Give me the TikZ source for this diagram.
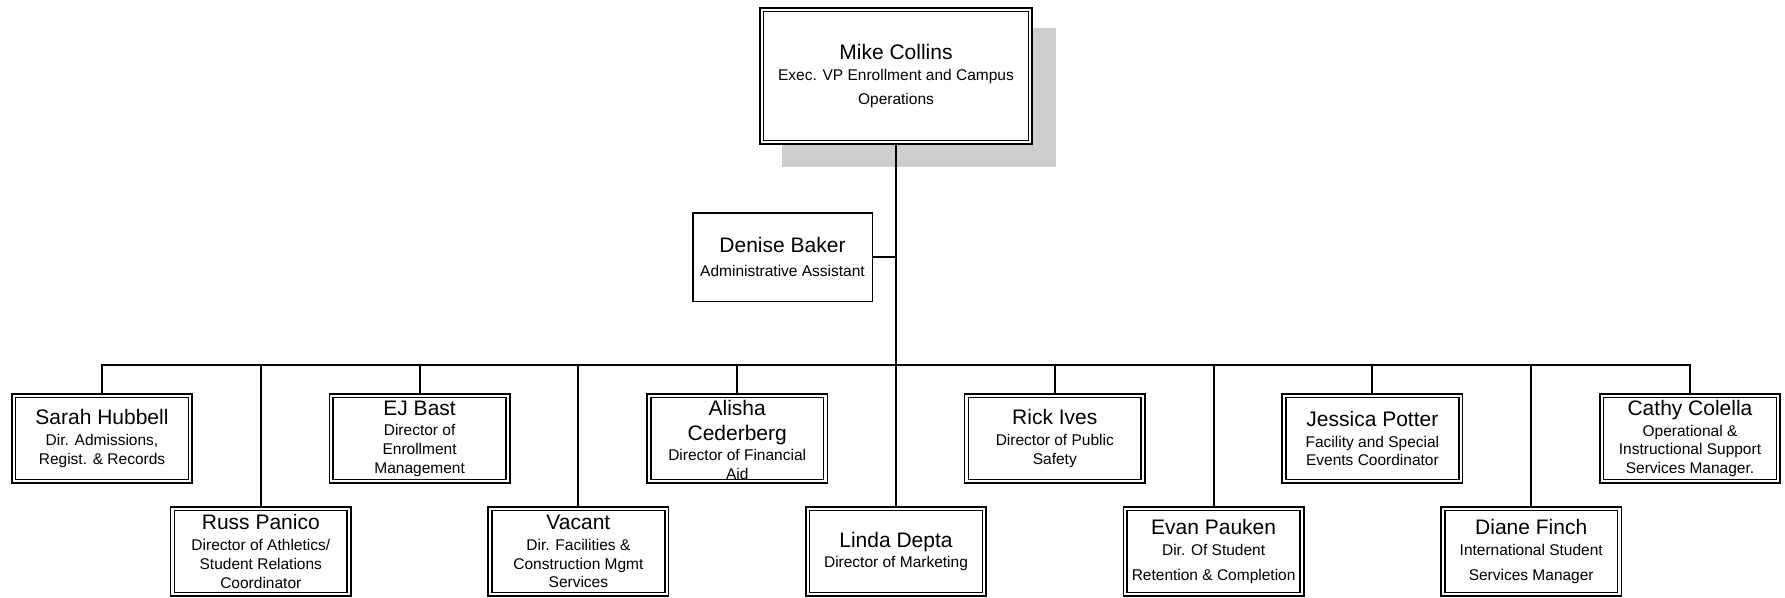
\documentclass[tikz,border=0pt]{standalone}
\usepackage{fontspec}
\setmainfont{Liberation Sans}
\definecolor{shadowgray}{HTML}{CDCDCD}
\newcommand{\nm}[1]{{\fontsize{21}{23}\selectfont #1}}
\tikzset{
  conn/.style={line width=2pt, line cap=rect},
  subfont/.style={font=\fontsize{15.5}{18.7}\selectfont},
  dbox/.style={draw, double, line width=1.6pt, double distance=2.2pt,
    minimum width=176.6pt, minimum height=85.6pt, inner sep=0pt,
    outer sep=2.7pt, align=center, fill=white, subfont},
  sbox/.style={draw, line width=1.5pt, minimum width=179.5pt,
    minimum height=88.5pt, inner sep=0pt, align=center, fill=white, subfont},
  txt/.style={align=center, inner sep=0pt, subfont}
}
\begin{document}
\begin{tikzpicture}[x=1pt,y=-1pt]
\useasboundingbox (0,0) rectangle (1785,597);
% top
\fill[shadowgray] (782,28) rectangle (1056,167);
\node[dbox, minimum width=268.6pt, minimum height=132.6pt] (mike) at (896,76)
  {\nm{Mike Collins}\\[2pt]Exec. VP Enrollment and Campus\\[6pt]Operations};
\node[sbox] (denise) at (782.5,257)
  {\nm{Denise Baker}\\[6pt]Administrative Assistant};
% top row
\node[dbox] (sarah) at (102,438.5)
  {\nm{Sarah Hubbell}\\[2pt]Dir. Admissions,\\Regist. \& Records};
\node[dbox] (ej) at (419.6,438.5)
  {\nm{EJ Bast}\\[2pt]Director of\\Enrollment\\Management};
\node[dbox] (alisha) at (737.2,438.5) {};
\node[txt] (alishatext) at (737.2,440)
  {\nm{Alisha}\\[6pt]\nm{Cederberg}\\[1pt]Director of Financial\\Aid};
\node[dbox] (rick) at (1054.8,438.5)
  {\nm{Rick Ives}\\[2pt]Director of Public\\Safety};
\node[dbox] (jessica) at (1372.4,438.5)
  {\nm{Jessica Potter}\\[2pt]Facility and Special\\Events Coordinator};
\node[dbox] (cathy) at (1690,438.5)
  {\nm{Cathy Colella}\\[2pt]Operational \&\\Instructional Support\\Services Manager.};
% bottom row
\node[dbox] (russ) at (260.8,551.5)
  {\nm{Russ Panico}\\[2pt]Director of Athletics/\\Student Relations\\Coordinator};
\node[dbox] (vacant) at (578.4,551.5)
  {\nm{Vacant}\\[2pt]Dir. Facilities \&\\Construction Mgmt\\Services};
\node[dbox] (linda) at (896,551.5)
  {\nm{Linda Depta}\\[2pt]Director of Marketing};
\node[dbox] (evan) at (1213.6,551.5)
  {\nm{Evan Pauken}\\[2pt]Dir. Of Student\\[6pt]Retention \& Completion};
\node[dbox] (diane) at (1531.2,551.5)
  {\nm{Diane Finch}\\[2pt]International Student\\[6pt]Services Manager};
% connectors
\coordinate (bus) at (896,365);
\draw[conn] (mike.south) -- (linda.north);
\draw[conn] (denise.east) -- (denise.east -| mike.south);
\draw[conn] (sarah.north |- bus) -- (cathy.north |- bus);
\foreach \n in {sarah,russ,ej,vacant,alisha,rick,evan,jessica,diane,cathy}
  \draw[conn] (\n.north |- bus) -- (\n.north);
\end{tikzpicture}
\end{document}
